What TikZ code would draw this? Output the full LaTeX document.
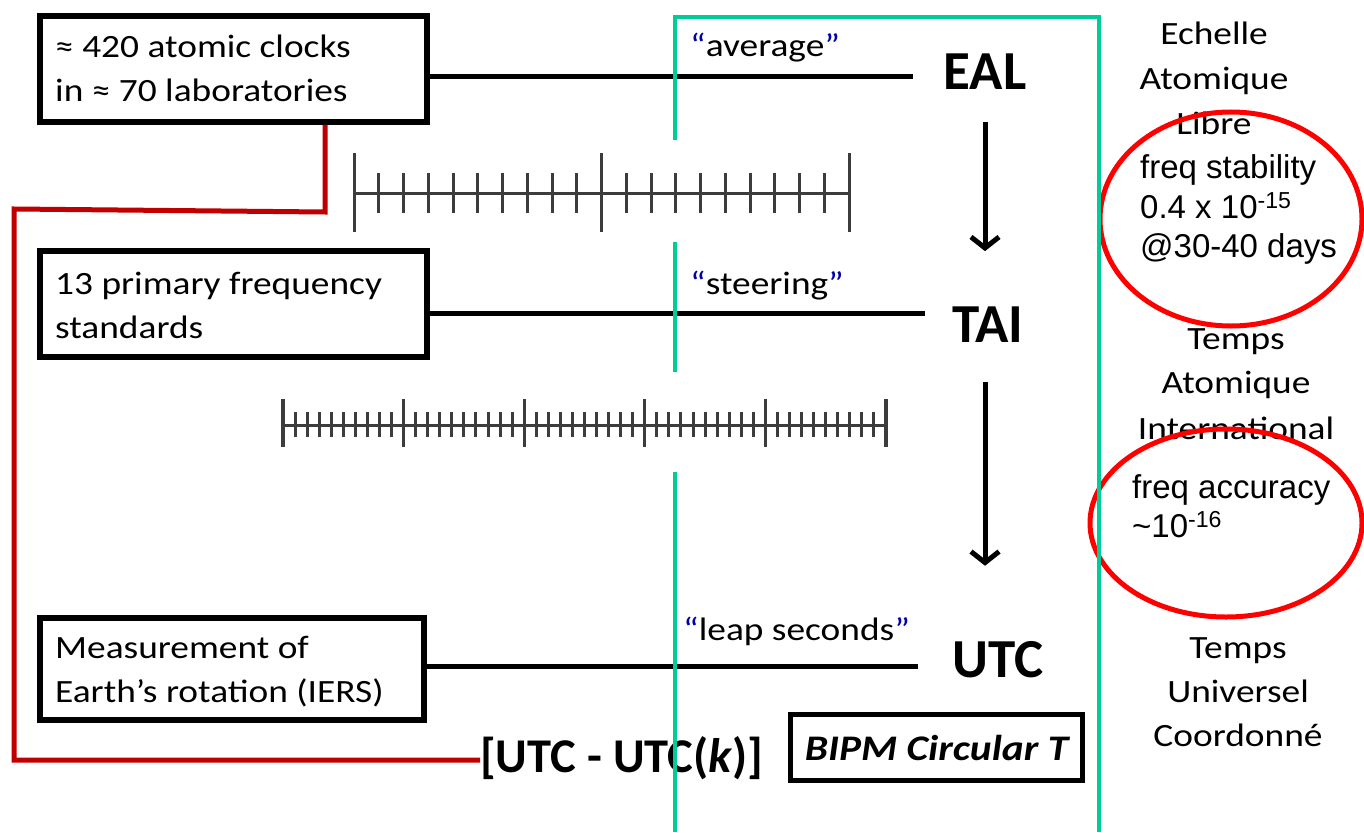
\documentclass[tikz,border=0pt]{standalone}
\usepackage{fontspec}
\setmainfont{Carlito}
\newfontfamily\wide[FakeStretch=1.15]{Carlito}
\newfontfamily\arial{Liberation Sans}
\usetikzlibrary{arrows.meta}
\definecolor{tealgreen}{RGB}{0,204,153}
\definecolor{darkred}{RGB}{192,0,0}
\definecolor{ellred}{RGB}{255,0,0}
\definecolor{quoteblue}{RGB}{0,0,170}
\definecolor{rulergray}{RGB}{60,60,60}
\tikzset{
  boxnode/.style={draw=black, line width=6pt, minimum width=#1, inner sep=0pt},
  conn/.style={draw=black, line width=5pt},
  arr/.style={draw=black, line width=5pt, -{Straight Barb[length=11pt,width=28pt]}},
  boxtxt/.style={anchor=base west, inner sep=0pt, font=\wide\fontsize{32.5}{44}\selectfont},
  qtxt/.style={anchor=base west, inner sep=0pt, font=\wide\fontsize{32.5}{44}\selectfont},
  bigtxt/.style={anchor=base, inner sep=0pt, font=\bfseries\fontsize{55}{60}\selectfont},
  rtxt/.style={anchor=base, inner sep=0pt, font=\wide\fontsize{32.5}{44}\selectfont},
  atxt/.style={anchor=base west, inner sep=0pt, font=\arial\fontsize{33}{40}\selectfont},
  redpath/.style={draw=darkred, line width=5pt},
  ell/.style={draw=ellred, line width=5pt},
  ruler/.style={draw=rulergray, line width=3pt},
  green/.style={draw=tealgreen, line width=4.5pt}
}
\newcommand{\q}[1]{\textcolor{quoteblue}{“}#1\textcolor{quoteblue}{”}}
\begin{document}
\begin{tikzpicture}[x=1pt,y=-1pt]
\useasboundingbox (0,0) rectangle (1364,832);

% boxes
\node[boxnode=387pt, minimum height=106pt] (box1) at (233.5,69) {};
\node[boxnode=387pt, minimum height=106pt] (box2) at (233.5,304) {};
\node[boxnode=384pt, minimum height=102pt] (box3) at (232,669) {};
\node[boxtxt] (b1a) at (55,58) {≈ 420 atomic clocks};
\node[boxtxt] (b1b) at (55,102) {in ≈ 70 laboratories};
\node[boxtxt] (b2a) at (55,294) {13 primary frequency};
\node[boxtxt] (b2b) at (55,338) {standards};
\node[boxtxt] (b3a) at (55,658) {Measurement of};
\node[boxtxt] (b3b) at (55,702) {Earth’s rotation (IERS)};

% scale labels
\node[bigtxt] (eal) at (985,90) {EAL};
\node[bigtxt] (tai) at (988,342) {TAI};
\node[bigtxt] (utc) at (998,677) {UTC};

% quote labels
\node[qtxt] (avg) at (690,57) {\q{average}};
\node[qtxt] (steer) at (690,294) {\q{steering}};
\node[qtxt] (leap) at (683,640) {\q{leap seconds}};

% connectors
\coordinate (e1) at (913,77);
\coordinate (e2) at (925,313);
\coordinate (e3) at (918,666);
\draw[conn] (box1.east |- e1) -- (e1);
\draw[conn] (box2.east |- e2) -- (e2);
\draw[conn] (box3.east |- e3) -- (e3);

% arrows
\draw[arr, shorten <=32pt, shorten >=55pt] (eal.south) -- (eal.south |- tai.north);
\draw[arr, shorten <=40pt, shorten >=75pt] (eal.south |- tai.south) -- (eal.south |- utc.north);

% rulers
\foreach \i in {0,...,20}{
  \pgfmathsetmacro{\xx}{354+\i*24.75}
  \pgfmathtruncatemacro{\m}{mod(\i,10)}
  \ifnum\m=0
    \draw[ruler] (\xx,153) -- (\xx,232);
  \else
    \draw[ruler] (\xx,173) -- (\xx,213);
  \fi
}
\draw[ruler] (354,193) -- (849,193);
\foreach \i in {0,...,50}{
  \pgfmathsetmacro{\xx}{283+\i*12.06}
  \pgfmathtruncatemacro{\m}{mod(\i,10)}
  \ifnum\m=0
    \draw[ruler, line width=3.2pt] (\xx,399) -- (\xx,447);
  \else
    \draw[ruler, line width=3pt] (\xx,412) -- (\xx,437);
  \fi
}
\draw[ruler, line width=3pt] (283,425) -- (886,425);

% right column texts
\node[rtxt] (r1a) at (1214,45) {Echelle};
\node[rtxt] (r1b) at (1214,90) {Atomique};
\node[rtxt] (r1c) at (1214,135) {Libre};
\node[rtxt] (r2a) at (1236,349) {Temps};
\node[rtxt] (r2b) at (1236,393) {Atomique};
\node[rtxt] (r2c) at (1236,439) {International};
\node[rtxt] (r3a) at (1238,658) {Temps};
\node[rtxt] (r3b) at (1238,702) {Universel};
\node[rtxt] (r3c) at (1238,746) {Coordonné};

\node[atxt] (fs1) at (1140,178) {freq stability};
\node[atxt] (fs2) at (1140,218) {0.4 x 10\textsuperscript{-15}};
\node[atxt] (fs3) at (1140,257) {@30-40 days};
\node[atxt] (fa1) at (1132,498) {freq accuracy};
\node[atxt] (fa2) at (1132,537) {\textasciitilde 10\textsuperscript{-16}};

\draw[ell] (1231,219) ellipse [x radius=131, y radius=107];
\draw[ell] (1226,523) ellipse [x radius=136, y radius=94];

% bottom
\node[anchor=base west, inner sep=0pt, font=\bfseries\fontsize{48.5}{52}\selectfont] (utck) at (480,772) {[UTC - UTC(\textit{k})]};
\node[draw=black, line width=5pt, minimum width=292pt, minimum height=66pt, inner sep=0pt,
      font=\wide\bfseries\itshape\fontsize{36}{40}\selectfont] (bipm) at (936.5,747.5) {BIPM Circular T};

% red link
\draw[redpath] (box1.south -| 325,0) -- (325,212) -- (14,209) -- (14,760) -- (utck.west |- 0,760);

% green frame
\draw[green] (675,832) -- (675,472);
\draw[green] (675,372) -- (675,242);
\draw[green] (675,140) -- (675,17) -- (1099,17) -- (1099,832);
\end{tikzpicture}
\end{document}
